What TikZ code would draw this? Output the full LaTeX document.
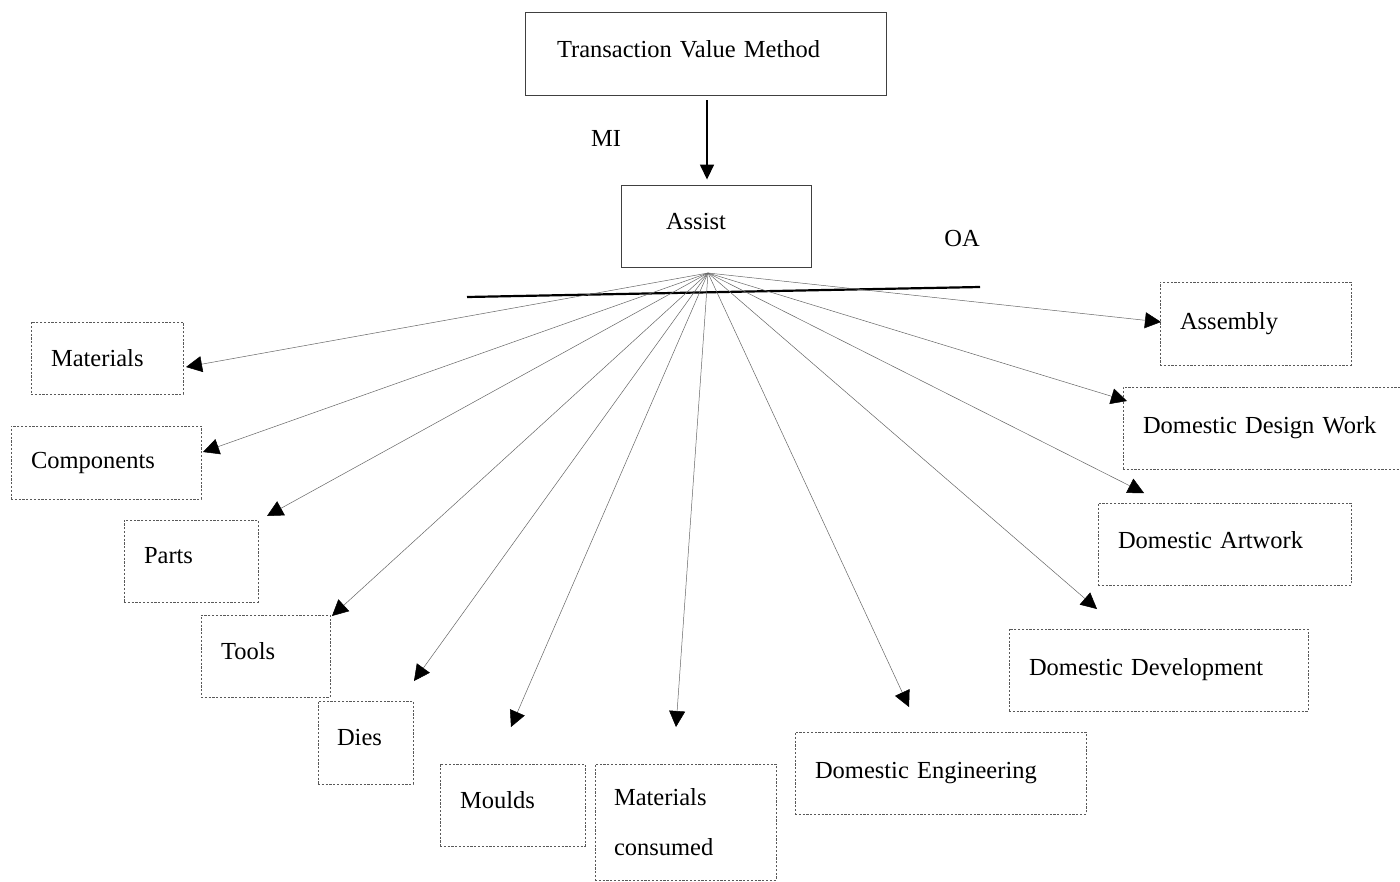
\documentclass[tikz,border=0pt]{standalone}
\usepackage{fontspec}
\setmainfont{Liberation Serif}
\usetikzlibrary{arrows.meta}
\begin{document}
\begin{tikzpicture}[x=1pt,y=-1pt,
  every node/.style={font=\fontsize{24.5}{30}\selectfont},
  solidbox/.style={draw=black!75, line width=0.9pt, align=left, inner ysep=0pt, text depth=9pt},
  dotbox/.style={draw=black!65, line width=0.8pt, dash pattern=on 2.2pt off 1.6pt,
    align=left, inner xsep=20pt, inner ysep=0pt},
  oneline/.style={text depth=11pt},
  fan/.style={draw=black!60, line width=0.5pt,
    -{Triangle[length=16pt,width=16pt,color=black,fill=black]}},
  mainarrow/.style={draw=black, line width=1.6pt, -{Triangle[length=15pt,width=14pt]},
    shorten <=5pt, shorten >=5pt},
  plain/.style={inner sep=0pt}]
\path[use as bounding box, fill=white] (0,0) rectangle (1400,881);

% top of the chart
\node[solidbox, inner xsep=32pt, text width=297pt, minimum width=361pt, minimum height=83pt]
  (tvm) at (705.5,53.5) {Transaction Value Method};
\node[solidbox, inner xsep=45pt, text width=100pt, minimum width=190pt, minimum height=82pt]
  (assist) at (716,226) {Assist};
\draw[mainarrow] (tvm.south -| 707,0) -- (assist.north -| 707,0);
\node[plain] (mi) at (606,138) {MI};
\node[plain] (oa) at (962,239) {OA};

% dividing bar under Assist
\coordinate (barL) at (467,297);
\coordinate (barR) at (980,287);
\draw[line width=2.2pt] (barL) -- (barR);

% items
\node[dotbox, text width=112pt, minimum width=152pt, minimum height=72pt] (materials) at (107,358) {Materials};
\node[dotbox, text width=150pt, minimum width=190pt, minimum height=73pt] (components) at (106,462.5) {Components};
\node[dotbox, oneline, text width=94pt, minimum width=134pt, minimum height=82pt] (parts) at (191,561) {Parts};
\node[dotbox, oneline, text width=89pt, minimum width=129pt, minimum height=82pt] (tools) at (265.5,656) {Tools};
\node[dotbox, oneline, inner xsep=19pt, text width=57pt, minimum width=95pt, minimum height=83pt] (dies) at (365.5,742.5) {Dies};
\node[dotbox, oneline, text width=105pt, minimum width=145pt, minimum height=82pt] (moulds) at (512.5,805) {Moulds};
\node[dotbox, inner xsep=19pt, text width=143pt, minimum width=181pt, minimum height=116pt,
  font=\fontsize{24.5}{50}\selectfont] (matcons) at (685.5,822) {Materials\\consumed};
\node[dotbox, text width=251pt, minimum width=291pt, minimum height=82pt] (engineering) at (940.5,773) {Domestic Engineering};
\node[dotbox, text width=259pt, minimum width=299pt, minimum height=82pt] (development) at (1158.5,670) {Domestic Development};
\node[dotbox, text depth=9pt, text width=213pt, minimum width=253pt, minimum height=82pt] (artwork) at (1224.5,544) {Domestic Artwork};
\node[dotbox, text width=242pt, minimum width=282pt, minimum height=82pt] (design) at (1264,428) {Domestic Design Work};
\node[dotbox, text width=151pt, minimum width=191pt, minimum height=83pt] (assembly) at (1255.5,323.5) {Assembly};

% fan of arrows from the foot of Assist
\coordinate (hub) at (708,273);
\coordinate (tMaterials) at (186,367);
\coordinate (tComponents) at (203,452);
\coordinate (tParts) at (267,516);
\coordinate (tTools) at (332,616);
\coordinate (tDies) at (414,681);
\coordinate (tMoulds) at (511,727);
\coordinate (tMatcons) at (676,727);
\coordinate (tEngineering) at (909,707);
\coordinate (tDevelopment) at (1097,609);
\coordinate (tArtwork) at (1144,493);
\coordinate (tDesign) at (1127,401);
\coordinate (tAssembly) at (1161,322);
\foreach \t in {Materials,Components,Parts,Tools,Dies,Moulds,Matcons,
                Engineering,Development,Artwork,Design,Assembly}
  \draw[fan] (hub) -- (t\t);
\end{tikzpicture}
\end{document}
